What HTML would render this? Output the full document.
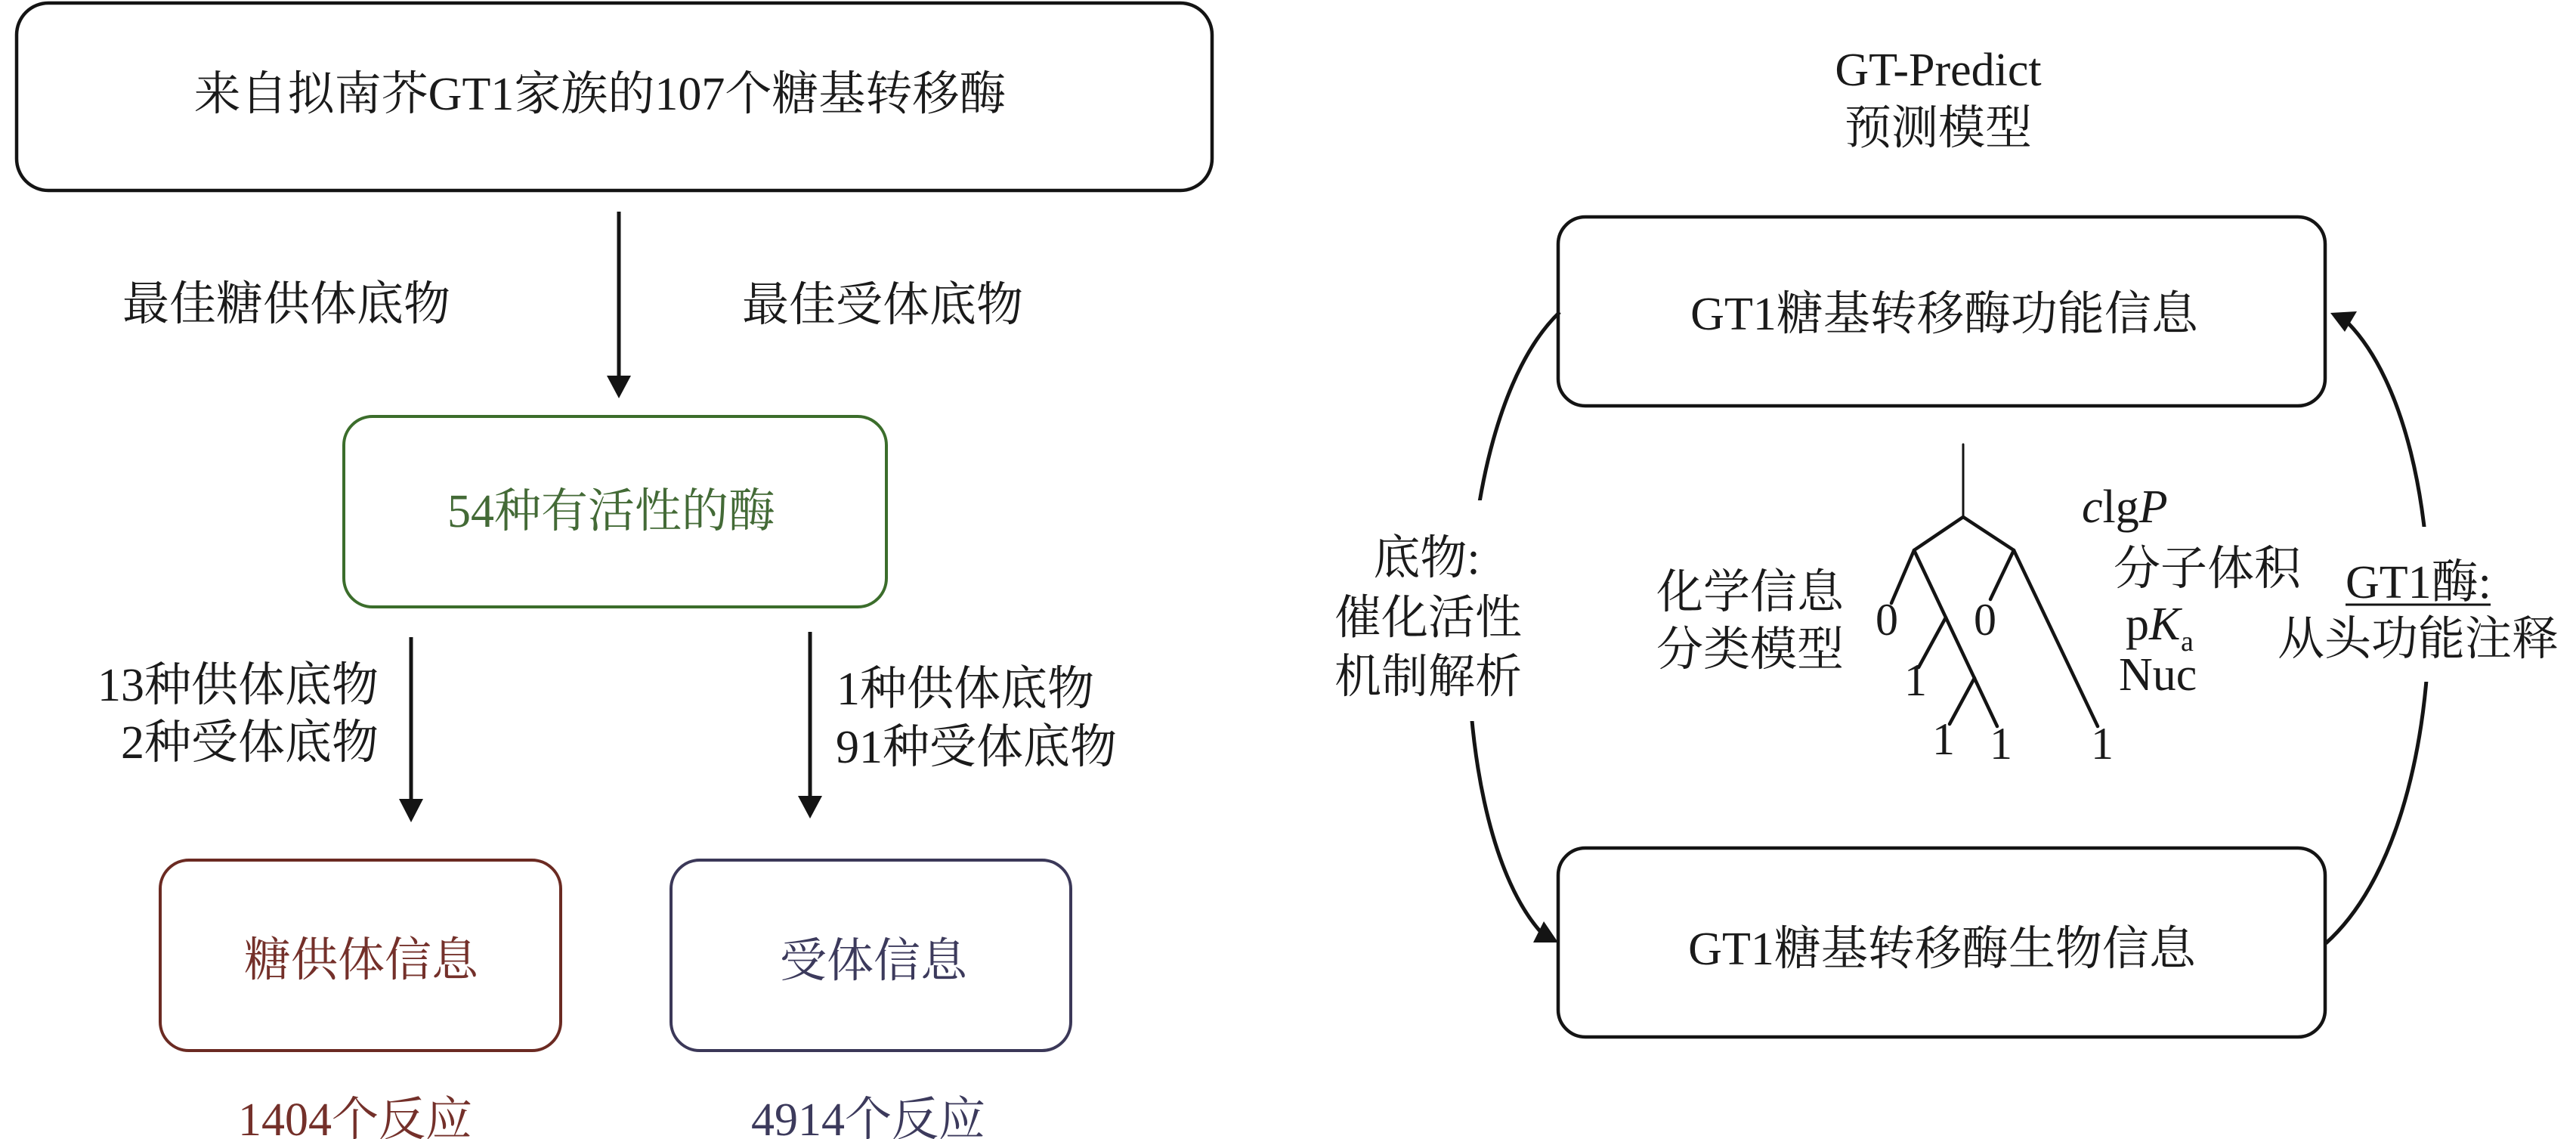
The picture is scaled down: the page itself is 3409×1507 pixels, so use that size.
<!DOCTYPE html>
<html>
<head>
<meta charset="utf-8">
<style>
  html, body { margin:0; padding:0; background:#ffffff; }
  body { width:3409px; height:1507px; overflow:hidden; }
  svg { display:block; }
  text { font-family: "Liberation Serif", "Noto Serif CJK SC", "Noto Sans CJK SC", serif; font-size:62px; fill:#1a1a1a; }
</style>
</head>
<body>
<svg width="3409" height="1507" viewBox="0 0 3409 1507" xmlns="http://www.w3.org/2000/svg">
  <rect x="0" y="0" width="3409" height="1507" fill="#ffffff"/>

  <!-- ===== LEFT PANEL ===== -->
  <!-- top box -->
  <rect x="22" y="4" width="1582" height="248" rx="42" ry="42" fill="none" stroke="#141414" stroke-width="4.5"/>
  <text x="794" y="145" text-anchor="middle">来自拟南芥GT1家族的107个糖基转移酶</text>

  <!-- arrow 1 -->
  <line x1="819" y1="280" x2="819" y2="502" stroke="#141414" stroke-width="5"/>
  <polygon points="803,497 835,497 819,527" fill="#141414"/>
  <text x="379" y="423" text-anchor="middle">最佳糖供体底物</text>
  <text x="1168" y="424" text-anchor="middle">最佳受体底物</text>

  <!-- green box -->
  <rect x="455" y="551" width="718" height="252" rx="38" ry="38" fill="none" stroke="#3b6d2b" stroke-width="4"/>
  <text x="809" y="697" text-anchor="middle" style="fill:#436a36">54种有活性的酶</text>

  <!-- arrow 2 (left) -->
  <line x1="544" y1="843" x2="544" y2="1062" stroke="#141414" stroke-width="5"/>
  <polygon points="528,1057 560,1057 544,1088" fill="#141414"/>
  <text x="501" y="927" text-anchor="end">13种供体底物</text>
  <text x="501" y="1003" text-anchor="end">2种受体底物</text>

  <!-- arrow 3 (right) -->
  <line x1="1072" y1="836" x2="1072" y2="1058" stroke="#141414" stroke-width="5"/>
  <polygon points="1056,1053 1088,1053 1072,1083" fill="#141414"/>
  <text x="1107" y="932" text-anchor="start">1种供体底物</text>
  <text x="1106" y="1009" text-anchor="start">91种受体底物</text>

  <!-- red box -->
  <rect x="212" y="1138" width="530" height="252" rx="38" ry="38" fill="none" stroke="#6b2a22" stroke-width="4"/>
  <text x="478" y="1291" text-anchor="middle" style="fill:#74302a">糖供体信息</text>
  <text x="470" y="1502" text-anchor="middle" style="fill:#74302a">1404个反应</text>

  <!-- blue box -->
  <rect x="888" y="1138" width="529" height="252" rx="38" ry="38" fill="none" stroke="#3b3858" stroke-width="4"/>
  <text x="1156" y="1292" text-anchor="middle" style="fill:#3c3a5c">受体信息</text>
  <text x="1149" y="1502" text-anchor="middle" style="fill:#3c3a5c">4914个反应</text>

  <!-- ===== RIGHT PANEL ===== -->
  <text x="2565" y="113" text-anchor="middle">GT-Predict</text>
  <text x="2565" y="190" text-anchor="middle">预测模型</text>

  <!-- right boxes -->
  <rect x="2062" y="287" width="1015" height="250" rx="36" ry="36" fill="none" stroke="#141414" stroke-width="4.5"/>
  <text x="2573" y="436" text-anchor="middle">GT1糖基转移酶功能信息</text>

  <rect x="2062" y="1122" width="1015" height="250" rx="36" ry="36" fill="none" stroke="#141414" stroke-width="4.5"/>
  <text x="2570" y="1276" text-anchor="middle">GT1糖基转移酶生物信息</text>

  <!-- left curved arrow -->
  <path d="M2064,413 C1910,560 1905,1080 2038,1232" fill="none" stroke="#141414" stroke-width="5"/>
  <polygon points="2029,1247 2043,1219 2062,1247" fill="#141414"/>
  <!-- right curved arrow -->
  <path d="M3078,1248 C3255,1090 3255,580 3108,428" fill="none" stroke="#141414" stroke-width="5"/>
  <polygon points="3084,414 3119,412 3103,439" fill="#141414"/>

  <!-- gaps for labels -->
  <rect x="1895" y="662" width="115" height="292" fill="#ffffff"/>
  <rect x="3150" y="697" width="115" height="205" fill="#ffffff"/>

  <!-- left labels -->
  <text x="1888" y="759" text-anchor="middle">底物:</text>
  <text x="1890" y="838" text-anchor="middle">催化活性</text>
  <text x="1890" y="916" text-anchor="middle">机制解析</text>

  <!-- right labels -->
  <text x="3104" y="791" text-anchor="start">GT1酶:</text>
  <line x1="3104" y1="800" x2="3296" y2="800" stroke="#141414" stroke-width="3"/>
  <text x="3200" y="866" text-anchor="middle">从头功能注释</text>

  <!-- tree -->
  <g stroke="#141414" stroke-width="4.5" fill="none" stroke-linecap="round">
    <line x1="2598" y1="588" x2="2598" y2="684" stroke-width="3"/>
    <line x1="2598" y1="684" x2="2533" y2="728"/>
    <line x1="2598" y1="684" x2="2665" y2="728"/>
    <line x1="2533" y1="728" x2="2503" y2="798"/>
    <line x1="2533" y1="728" x2="2643" y2="961"/>
    <line x1="2575" y1="817" x2="2539" y2="883"/>
    <line x1="2613" y1="897" x2="2580" y2="958"/>
    <line x1="2665" y1="728" x2="2634" y2="793"/>
    <line x1="2665" y1="728" x2="2776" y2="961"/>
  </g>
  <g style="font-size:60px">
    <text x="2497" y="840" text-anchor="middle" style="font-size:60px">0</text>
    <text x="2627" y="840" text-anchor="middle" style="font-size:60px">0</text>
    <text x="2535" y="920" text-anchor="middle" style="font-size:60px">1</text>
    <text x="2572" y="998" text-anchor="middle" style="font-size:60px">1</text>
    <text x="2648" y="1004" text-anchor="middle" style="font-size:60px">1</text>
    <text x="2782" y="1004" text-anchor="middle" style="font-size:60px">1</text>
  </g>

  <text x="2316" y="804" text-anchor="middle">化学信息</text>
  <text x="2316" y="880" text-anchor="middle">分类模型</text>

  <text x="2755" y="691" text-anchor="start"><tspan font-style="italic">c</tspan>lg<tspan font-style="italic">P</tspan></text>
  <text x="2797" y="773" text-anchor="start">分子体积</text>
  <text x="2813" y="846" text-anchor="start">p<tspan font-style="italic">K</tspan></text>
  <text x="2886" y="861" text-anchor="start" style="font-size:38px">a</text>
  <text x="2804" y="913" text-anchor="start">Nuc</text>
</svg>
</body>
</html>
